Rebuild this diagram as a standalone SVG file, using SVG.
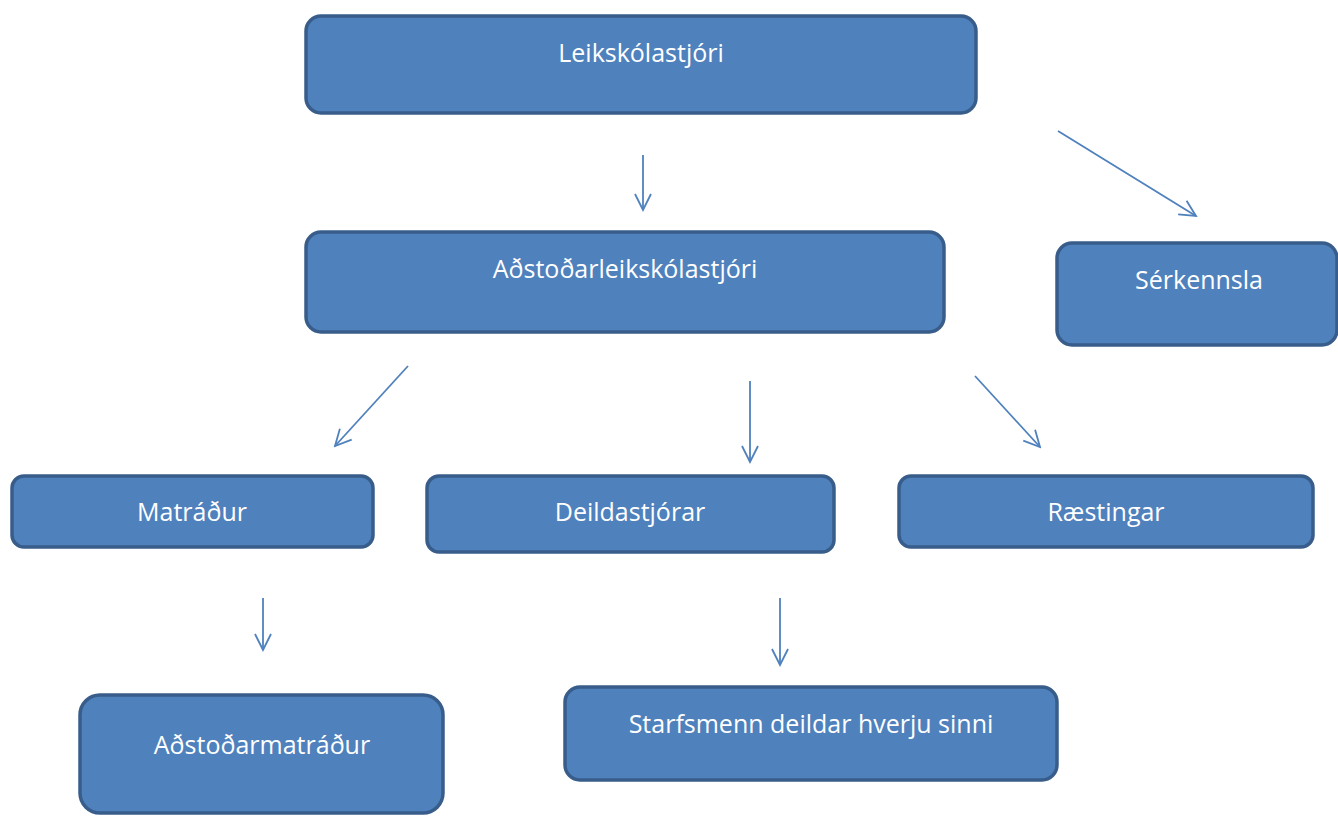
<svg xmlns="http://www.w3.org/2000/svg" width="1338" height="817" viewBox="0 0 1338 817">
<defs>
<marker id="arr" viewBox="0 0 20 20" refX="18" refY="10" markerWidth="20" markerHeight="20" markerUnits="userSpaceOnUse" orient="auto">
<path d="M2,2 L18,10 L2,18" fill="none" stroke="#4F81BD" stroke-width="1.8"/>
</marker>
<style>
.box{fill:#4F81BD;stroke:#385D8A;stroke-width:3.5}
.lbl{fill:#FFFFFF;font-family:"Open Sans","Noto Sans",sans-serif;font-size:25px;text-anchor:middle}
.con{stroke:#4F81BD;stroke-width:1.8;fill:none;marker-end:url(#arr)}
</style>
</defs>
<rect width="1338" height="817" fill="#FFFFFF"/>
<g id="connectors">
<line class="con" x1="643" y1="155" x2="643" y2="210"/>
<line class="con" x1="1058" y1="131" x2="1196" y2="216"/>
<line class="con" x1="408" y1="366" x2="335" y2="446"/>
<line class="con" x1="750" y1="381" x2="750" y2="462"/>
<line class="con" x1="975" y1="376" x2="1040" y2="447"/>
<line class="con" x1="263" y1="598" x2="263" y2="650"/>
<line class="con" x1="780" y1="598" x2="780" y2="665"/>
</g>
<g id="n1"><rect class="box" x="306" y="16" width="670" height="97" rx="15"/><text class="lbl" x="641" y="62">Leikskólastjóri</text></g>
<g id="n2"><rect class="box" x="306" y="232" width="638" height="100" rx="15"/><text class="lbl" x="625" y="278">Aðstoðarleikskólastjóri</text></g>
<g id="n3"><rect class="box" x="1057" y="243" width="280" height="102" rx="15"/><text class="lbl" x="1199" y="289">Sérkennsla</text></g>
<g id="n4"><rect class="box" x="12" y="476" width="361" height="71" rx="12"/><text class="lbl" x="192" y="521">Matráður</text></g>
<g id="n5"><rect class="box" x="427" y="476" width="407" height="76" rx="12"/><text class="lbl" x="630" y="521">Deildastjórar</text></g>
<g id="n6"><rect class="box" x="899" y="476" width="414" height="71" rx="12"/><text class="lbl" x="1106" y="521">Ræstingar</text></g>
<g id="n7"><rect class="box" x="80" y="695" width="363" height="118" rx="20"/><text class="lbl" x="262" y="754">Aðstoðarmatráður</text></g>
<g id="n8"><rect class="box" x="565" y="687" width="492" height="93" rx="15"/><text class="lbl" x="811" y="733">Starfsmenn deildar hverju sinni</text></g>
</svg>
